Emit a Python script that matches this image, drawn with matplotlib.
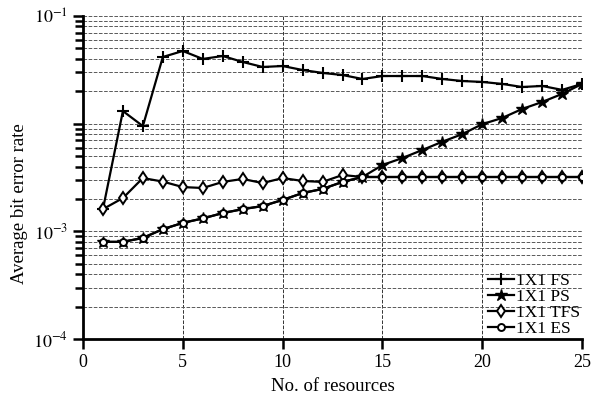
import numpy as np
import matplotlib
matplotlib.use("Agg")
import matplotlib.pyplot as plt
import matplotlib.ticker as ticker

plt.rcParams['font.family'] = ['Liberation Serif', 'DejaVu Serif']
plt.rcParams['mathtext.fontset'] = 'stix'

# Data
resources = list(range(1, 26))

fs = [0.00161, 0.0131, 0.0095, 0.0416, 0.0473, 0.0399, 0.0425, 0.0374, 0.0336, 0.0343,
      0.0315, 0.0296, 0.0283, 0.0260, 0.0277, 0.0277, 0.0277, 0.0260, 0.0249, 0.0244,
      0.0234, 0.0219, 0.0224, 0.0206, 0.0234]

ps = [0.00080, 0.00080, 0.00087, 0.00105, 0.00120, 0.00132, 0.00148, 0.00161, 0.00172, 0.00196,
      0.00227, 0.00248, 0.00288, 0.0032, 0.00413, 0.0048, 0.0057, 0.0068, 0.0080, 0.0099,
      0.0113, 0.0137, 0.0159, 0.0189, 0.0234]

tfs = [0.00161, 0.00204, 0.00313, 0.0029, 0.00258, 0.00253, 0.00288, 0.00307, 0.00281, 0.00313,
       0.00294, 0.00288, 0.00334, 0.0032, 0.0032, 0.0032, 0.0032, 0.0032, 0.0032, 0.0032,
       0.0032, 0.0032, 0.0032, 0.0032, 0.0032]

es = [0.00080, 0.00080, 0.00087, 0.00105, 0.00120, 0.00132, 0.00148, 0.00161, 0.00172, 0.00196,
      0.00227, 0.00248, 0.00288, 0.0032, 0.0032, 0.0032, 0.0032, 0.0032, 0.0032, 0.0032,
      0.0032, 0.0032, 0.0032, 0.0032, 0.0032]

xticks = [0, 5, 10, 15, 20, 25]
yticks = [1e-4, 1e-3, 1e-2, 1e-1]
ytick_labels = [r'$10^{-4}$', r'$10^{-3}$', '', r'$10^{-1}$']

fig = plt.figure(figsize=(5.97, 3.99), dpi=100)
ax = fig.add_axes([0.139, 0.150, 0.836, 0.810])

ax.plot(resources, fs, color='black', lw=1.6, marker='+', markersize=8, mew=1.5, label='1X1 FS')
ax.plot(resources, ps, color='black', lw=1.6, marker='*', markersize=9, label='1X1 PS')
ax.plot(resources, tfs, color='black', lw=1.6, marker='d', markersize=6, mfc='white', mew=1.4, label='1X1 TFS')
ax.plot(resources, es, color='black', lw=1.6, marker='o', markersize=5, mfc='white', mew=1.4, label='1X1 ES')

ax.set_yscale('log')
ax.set_xlim(0, 25)
ax.set_ylim(1e-4, 1e-1)

ax.set_xticks(xticks)
ax.set_yticks(yticks)
ax.set_yticklabels(ytick_labels)
ax.yaxis.set_minor_locator(ticker.LogLocator(base=10, subs=np.arange(2, 10)))
ax.yaxis.set_minor_formatter(ticker.NullFormatter())

ax.grid(True, which='both', axis='y', color='0.35', linestyle='--', linewidth=0.7)
ax.grid(True, which='major', axis='x', color='0.2', linestyle='--', linewidth=0.7)

for side in ['top', 'right']:
    ax.spines[side].set_visible(False)
for side in ['left', 'bottom']:
    ax.spines[side].set_linewidth(2)

ax.tick_params(axis='both', which='major', direction='out', length=7, width=1.8, labelsize=13)
ax.tick_params(axis='y', which='minor', direction='out', length=6, width=1.8)

ax.set_xlabel('No. of resources', fontsize=13.5, labelpad=5)
ax.set_ylabel('Average bit error rate', fontsize=13.5)
ax.yaxis.set_label_coords(-0.11, 0.42)

ax.legend(loc='lower right', frameon=False, fontsize=12.5, handlelength=1.5,
          labelspacing=0.0, handletextpad=0.1, borderaxespad=0.0, borderpad=0.1)

fig.savefig('out.png', dpi=100)
